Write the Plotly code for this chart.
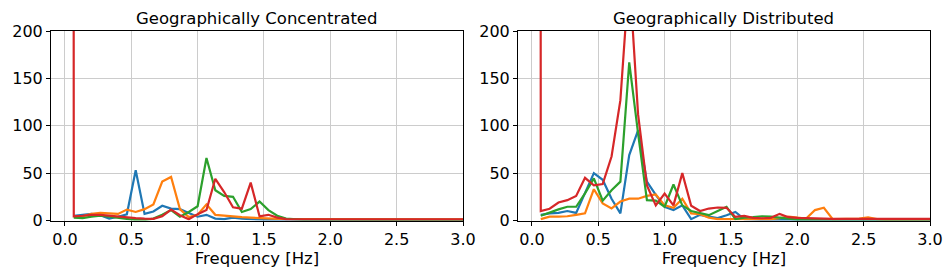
import numpy as np
import plotly.graph_objects as go

N = 47
freq = np.arange(N) / 15.0  # frequency bins [Hz]

titles = ["Geographically Concentrated", "Geographically Distributed"]
colors = ["#1f77b4", "#ff7f0e", "#2ca02c", "#d62728"]

# ---- Geographically Concentrated ----
conc_blue = [None, 5, 6, 7, 5.5, 2, 4, 6.5, 53, 7, 9.5, 15.5, 12.5, 12, 8, 4, 6, 2, 1.5, 3, 2, 1,
             0.8, 0.6, 0.5, 0.5, 0.5, 0.5, 0.5, 0.5, 0.5, 0.5, 0.5, 0.5, 0.5, 0.5, 0.5, 0.5, 0.5,
             0.5, 0.5, 0.5, 0.5, 0.5, 0.5, 0.5, 0.5]
conc_orange = [None, 4, 4.5, 7, 8, 7.5, 7, 11.5, 9, 12, 17, 41, 46, 12, 3.5, 6, 17, 6, 5, 4.5, 3.5, 3,
               2.5, 2, 1.5, 1.5, 1.4, 1.4, 1.3, 1.3, 1.3, 1.2, 1.2, 1.2, 1.2, 1.2, 1.2, 1.2, 1.2,
               1.2, 1.1, 1.1, 1.1, 1.1, 1.1, 1.1, 1.1]
conc_green = [None, 3, 2.5, 4, 5, 4, 3, 2, 0.5, 0.5, 2, 6, 11, 4, 9, 15, 66, 32, 26, 25, 9, 12, 20, 11,
              5, 2, 1, 0.8, 0.8, 0.7, 0.7, 0.6, 0.6, 0.6, 0.6, 0.6, 0.6, 0.6, 0.6, 0.6, 0.6, 0.6,
              0.6, 0.6, 0.6, 0.6, 0.6]
conc_red = [20000, 4.5, 5, 6, 6, 5, 4, 3.5, 2.5, 2, 1.8, 4.6, 11.6, 5.6, 1.4, 6.7, 11, 44, 30, 14, 12.5,
            40, 4.5, 6, 3, 1.5, 1.4, 1.4, 1.3, 1.3, 1.3, 1.3, 1.3, 1.2, 1.2, 1.2, 1.2, 1.2, 1.2, 1.2,
            1.2, 1.2, 1.2, 1.2, 1.2, 1.2, 1.2]

# ---- Geographically Distributed ----
dist_blue = [None, 6, 7.5, 8, 10, 8, 29, 50, 43, 23, 7.5, 69, 95, 41, 27, 14.5, 11, 16, 1.4, 6, 4,
             2.5, 5.6, 9, 1.5, 0.8, 0.6, 0.5, 0.5, 0.5, 0.5, 0.5, 0.5, 0.5, 0.5, 0.5, 0.5, 0.5, 0.5,
             0.5, 0.5, 0.5, 0.5, 0.5, 0.5, 0.5, 0.5]
dist_orange = [None, 1.5, 4, 4, 4.5, 6, 7.5, 33, 18, 12.7, 20, 23, 23, 26, 27.5, 16, 13.4, 23, 7.5,
               6.7, 3, 1.5, 1.5, 2, 1.5, 1.5, 1.5, 1.5, 2.5, 4, 3, 2, 11, 13.4, 1.5, 1.5, 1.5, 2,
               3.2, 1.5, 1, 1, 1, 1, 1, 1, 1]
dist_green = [None, 5, 8.5, 11.7, 14.5, 14.5, 28.6, 44.5, 21, 32, 41, 167, 92, 21.5, 21, 14.5, 38,
              16, 10, 8, 5.6, 10, 14.4, 1.4, 3, 3.5, 4.5, 4, 3, 1.7, 1, 0.8, 0.8, 0.8, 0.8, 0.8,
              0.8, 0.8, 0.8, 0.8, 0.8, 0.8, 0.8, 0.8, 0.8, 0.8, 0.8]
dist_red = [20000, 10, 12.4, 19, 21.5, 26, 45, 37, 38.5, 67.5, 127, 261, 112, 37, 16, 28.5, 16, 50,
            15.5, 10, 12.6, 13.7, 13.4, 3.8, 4.9, 2.8, 2.4, 2.8, 7, 3.5, 2.8, 2.4, 1.7, 2, 1.8, 1.8,
            1.8, 1.8, 1.7, 1.7, 1.7, 1.7, 1.7, 1.7, 1.7, 1.7, 1.7]

panels = [
    [conc_blue, conc_orange, conc_green, conc_red],
    [dist_blue, dist_orange, dist_green, dist_red],
]

x_ticks = [0.0, 0.5, 1.0, 1.5, 2.0, 2.5, 3.0]
x_tick_text = ["0.0", "0.5", "1.0", "1.5", "2.0", "2.5", "3.0"]
y_ticks = [0, 50, 100, 150, 200]

W, H = 947, 277
fig = go.Figure()

x_domains = [[51 / W, 463 / W], [518 / W, 930 / W]]
y_domain = [(H - 220.5) / H, (H - 31) / H]

font_family = "DejaVu Sans, Verdana, sans-serif"

for i, series in enumerate(panels):
    xa = "x" if i == 0 else "x2"
    ya = "y" if i == 0 else "y2"
    for s, c in zip(series, colors):
        fig.add_trace(go.Scatter(
            x=freq, y=s, mode="lines", xaxis=xa, yaxis=ya,
            line=dict(color=c, width=2.2), showlegend=False, connectgaps=False,
            hoverinfo="skip"))
    axis_common = dict(
        showline=True, linecolor="black", linewidth=1, mirror=True,
        ticks="outside", ticklen=4, tickcolor="black", tickwidth=1,
        showgrid=True, gridcolor="#cccccc", gridwidth=1, zeroline=False,
        automargin=False,
        tickfont=dict(family=font_family, size=16, color="black"),
    )
    xkey = "xaxis" if i == 0 else "xaxis2"
    ykey = "yaxis" if i == 0 else "yaxis2"
    fig.update_layout({
        xkey: dict(axis_common, domain=x_domains[i], range=[-0.105, 3.0],
                   tickvals=x_ticks, ticktext=x_tick_text,
                   anchor=ya,
                   title=dict(text="Frequency [Hz]", standoff=2,
                              font=dict(family=font_family, size=16.5, color="black"))),
        ykey: dict(axis_common, domain=y_domain, range=[0, 200], tickvals=y_ticks,
                   anchor=xa),
    })
    fig.add_annotation(
        x=(x_domains[i][0] + x_domains[i][1]) / 2, y=(H - 19) / H,
        xref="paper", yref="paper", text=titles[i], showarrow=False,
        font=dict(family=font_family, size=16.5, color="black"),
        xanchor="center", yanchor="middle")

fig.update_layout(
    width=W, height=H, margin=dict(l=0, r=0, t=0, b=0),
    paper_bgcolor="white", plot_bgcolor="white",
    font=dict(family=font_family, color="black"),
)

fig.write_html(
    "out.html",
    config={"displayModeBar": False},
    post_script="document.body.style.margin='0px';document.body.style.padding='0px';",
)
